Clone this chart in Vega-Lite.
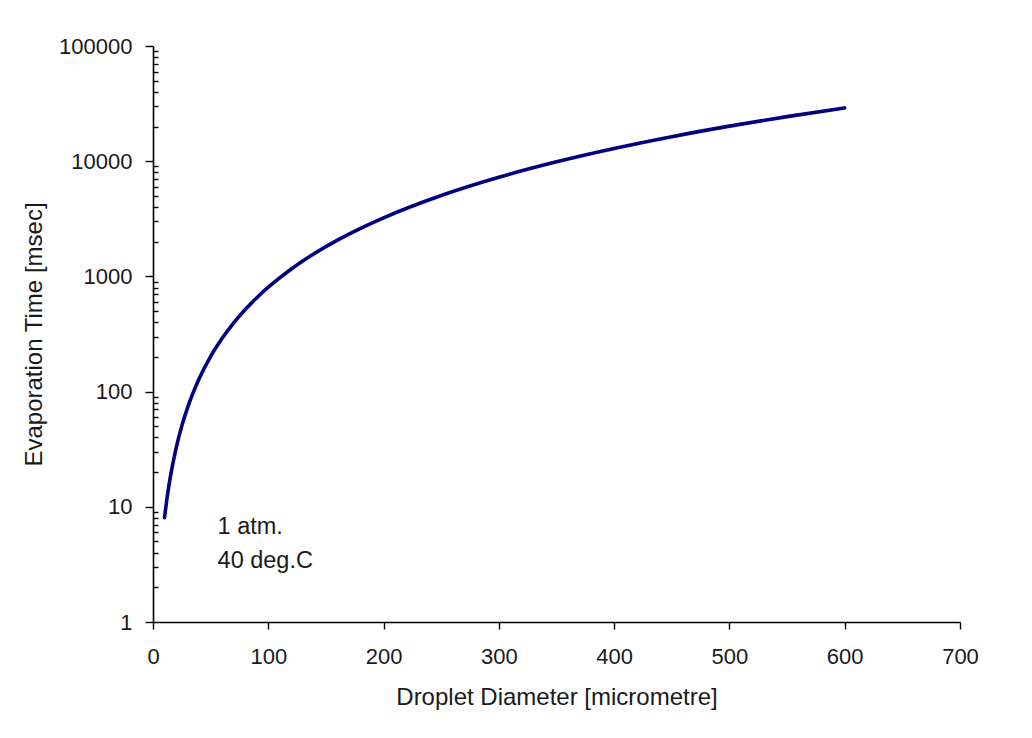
{
  "$schema": "https://vega.github.io/schema/vega-lite/v6.json",
  "autosize": "none",
  "width": 807,
  "height": 576,
  "padding": {"left": 153, "top": 46, "right": 72, "bottom": 116},
  "background": "white",
  "config": {
    "view": {"stroke": null},
    "font": "Liberation Sans",
    "axis": {
      "grid": false,
      "labelFlush": false,
      "domainColor": "#000000",
      "domainWidth": 1.6,
      "tickColor": "#000000",
      "tickWidth": 1.4,
      "labelFont": "Liberation Sans",
      "labelFontSize": 22,
      "labelColor": "#1a1a1a",
      "titleFont": "Liberation Sans",
      "titleFontSize": 24,
      "titleFontWeight": "normal",
      "titleColor": "#1a1a1a"
    }
  },
  "data": {
    "values": [
      {"d": 10, "t": 8.06},
      {"d": 12, "t": 11.6},
      {"d": 15, "t": 18.1},
      {"d": 20, "t": 32.2},
      {"d": 25, "t": 50.4},
      {"d": 30, "t": 72.5},
      {"d": 40, "t": 129},
      {"d": 50, "t": 202},
      {"d": 60, "t": 290},
      {"d": 70, "t": 395},
      {"d": 80, "t": 516},
      {"d": 90, "t": 653},
      {"d": 100, "t": 806},
      {"d": 120, "t": 1161},
      {"d": 140, "t": 1580},
      {"d": 160, "t": 2063},
      {"d": 180, "t": 2611},
      {"d": 200, "t": 3224},
      {"d": 250, "t": 5038},
      {"d": 300, "t": 7254},
      {"d": 350, "t": 9874},
      {"d": 400, "t": 12896},
      {"d": 450, "t": 16322},
      {"d": 500, "t": 20150},
      {"d": 550, "t": 24382},
      {"d": 600, "t": 29016}
    ]
  },
  "layer": [
    {
      "mark": {"type": "line", "color": "#000080", "strokeWidth": 3.6, "strokeCap": "round", "interpolate": "monotone"},
      "encoding": {
        "x": {
          "field": "d",
          "type": "quantitative",
          "scale": {"domain": [0, 700], "nice": false},
          "axis": {
            "title": "Droplet Diameter [micrometre]",
            "values": [0, 100, 200, 300, 400, 500, 600, 700],
            "tickSize": 7,
            "labelPadding": 17,
            "titlePadding": 18
          }
        },
        "y": {
          "field": "t",
          "type": "quantitative",
          "scale": {"type": "log", "domain": [1, 100000], "nice": false},
          "axis": {
            "title": "Evaporation Time [msec]",
            "titlePadding": 12,
            "values": [1, 2, 3, 4, 5, 6, 7, 8, 9,
                       10, 20, 30, 40, 50, 60, 70, 80, 90,
                       100, 200, 300, 400, 500, 600, 700, 800, 900,
                       1000, 2000, 3000, 4000, 5000, 6000, 7000, 8000, 9000,
                       10000, 20000, 30000, 40000, 50000, 60000, 70000, 80000, 90000,
                       100000],
            "labelExpr": "indexof([1, 10, 100, 1000, 10000, 100000], datum.value) >= 0 ? format(datum.value, 'd') : ''",
            "tickSize": {
              "condition": {"test": "indexof([1, 10, 100, 1000, 10000, 100000], datum.value) >= 0", "value": 8},
              "value": -5
            },
            "labelPadding": 13
          }
        }
      }
    },
    {
      "data": {"values": [{"note": "conditions"}]},
      "mark": {
        "type": "text",
        "text": ["1 atm.", "40 deg.C"],
        "align": "left",
        "baseline": "middle",
        "lineHeight": 34,
        "font": "Liberation Sans",
        "fontSize": 23.5,
        "color": "#1a1a1a"
      },
      "encoding": {
        "x": {"datum": 56},
        "y": {"datum": 6.7}
      }
    }
  ]
}
